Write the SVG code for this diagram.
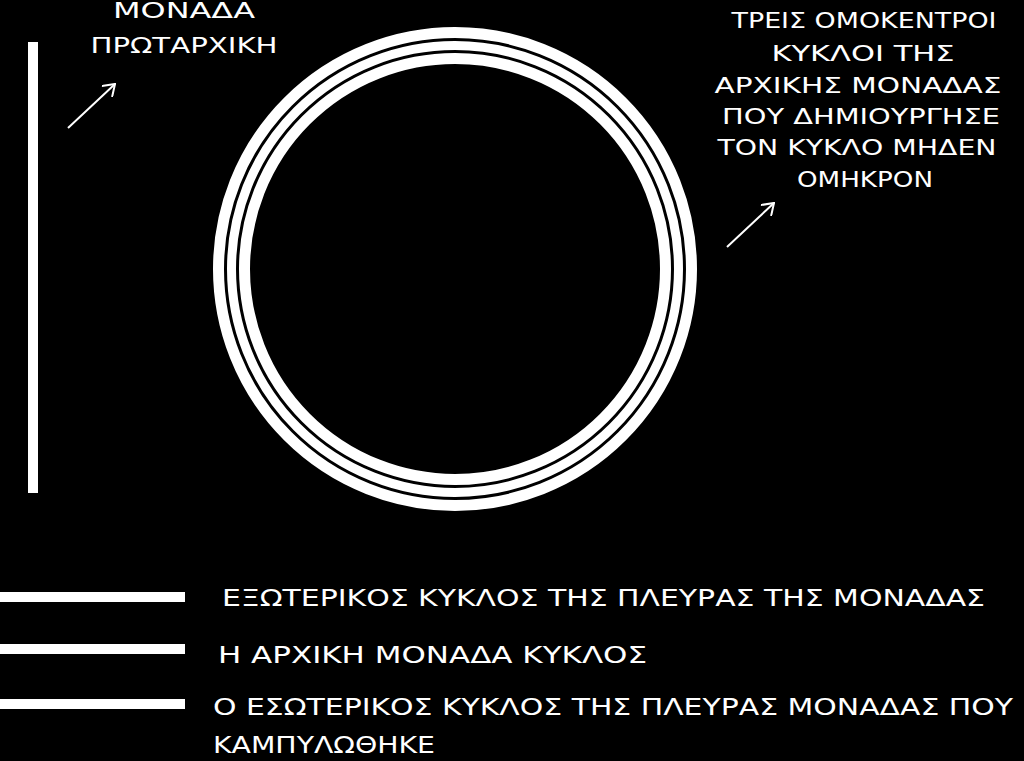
<svg xmlns="http://www.w3.org/2000/svg" width="1024" height="761" viewBox="0 0 1024 761">
  <defs>
    <style>
      .lbl { font-family: "DejaVu Sans", "Liberation Sans", sans-serif; fill: #ffffff; }
      .top { font-size: 21px; }
      .leg { font-size: 23px; }
      .ring { fill: none; stroke: #ffffff; }
      .bar { fill: #ffffff; }
      .arrow { stroke: #ffffff; stroke-width: 2; fill: none; marker-end: url(#head); }
    </style>
    <marker id="head" viewBox="0 0 16 16" refX="15" refY="8" markerWidth="16" markerHeight="16" markerUnits="userSpaceOnUse" orient="auto">
      <path d="M4,0.5 L15,8 L4,15.5" fill="none" stroke="#ffffff" stroke-width="2" stroke-linejoin="miter"/>
    </marker>
  </defs>
  <rect x="0" y="0" width="1024" height="761" fill="#000000"/>

  <g id="vertical-bar">
    <rect class="bar" x="28" y="42" width="10" height="451"/>
  </g>

  <g id="concentric-circles">
    <circle class="ring" cx="455" cy="269" r="236.5" stroke-width="11"/>
    <circle class="ring" cx="455" cy="269" r="223.5" stroke-width="9"/>
    <circle class="ring" cx="455" cy="269" r="210.5" stroke-width="11"/>
  </g>

  <g id="label-monada">
    <text class="lbl top" x="184" y="18" text-anchor="middle" textLength="142" lengthAdjust="spacingAndGlyphs">ΜΟΝΑΔΑ</text>
    <text class="lbl top" x="184" y="53" text-anchor="middle" textLength="187" lengthAdjust="spacingAndGlyphs">ΠΡΩΤΑΡΧΙΚΗ</text>
  </g>

  <g id="label-treis">
    <text class="lbl top" x="864" y="28" text-anchor="middle" textLength="265" lengthAdjust="spacingAndGlyphs">ΤΡΕΙΣ ΟΜΟΚΕΝΤΡΟΙ</text>
    <text class="lbl top" x="863" y="61" text-anchor="middle" textLength="183" lengthAdjust="spacingAndGlyphs">ΚΥΚΛΟΙ ΤΗΣ</text>
    <text class="lbl top" x="858" y="93" text-anchor="middle" textLength="287" lengthAdjust="spacingAndGlyphs">ΑΡΧΙΚΗΣ ΜΟΝΑΔΑΣ</text>
    <text class="lbl top" x="861" y="124" text-anchor="middle" textLength="278" lengthAdjust="spacingAndGlyphs">ΠΟΥ ΔΗΜΙΟΥΡΓΗΣΕ</text>
    <text class="lbl top" x="857" y="155" text-anchor="middle" textLength="279" lengthAdjust="spacingAndGlyphs">ΤΟΝ ΚΥΚΛΟ ΜΗΔΕΝ</text>
    <text class="lbl top" x="865" y="187" text-anchor="middle" textLength="136" lengthAdjust="spacingAndGlyphs">ΟΜΗΚΡΟΝ</text>
  </g>

  <g id="legend-outer">
    <rect class="bar" x="0" y="592" width="185" height="10"/>
    <text class="lbl leg" x="222" y="606" textLength="763" lengthAdjust="spacingAndGlyphs">ΕΞΩΤΕΡΙΚΟΣ ΚΥΚΛΟΣ ΤΗΣ ΠΛΕΥΡΑΣ ΤΗΣ ΜΟΝΑΔΑΣ</text>
  </g>

  <g id="legend-middle">
    <rect class="bar" x="0" y="644" width="185" height="10"/>
    <text class="lbl leg" x="218" y="663" textLength="429" lengthAdjust="spacingAndGlyphs">Η ΑΡΧΙΚΗ ΜΟΝΑΔΑ ΚΥΚΛΟΣ</text>
  </g>

  <g id="legend-inner">
    <rect class="bar" x="0" y="699" width="185" height="10"/>
    <text class="lbl leg" x="213" y="715" textLength="800" lengthAdjust="spacingAndGlyphs">Ο ΕΣΩΤΕΡΙΚΟΣ ΚΥΚΛΟΣ ΤΗΣ ΠΛΕΥΡΑΣ ΜΟΝΑΔΑΣ ΠΟΥ</text>
    <text class="lbl leg" x="213" y="753" textLength="222" lengthAdjust="spacingAndGlyphs">ΚΑΜΠΥΛΩΘΗΚΕ</text>
  </g>

  <g id="connectors">
    <line class="arrow" x1="68" y1="128" x2="115" y2="84"/>
    <line class="arrow" x1="727" y1="247" x2="774" y2="203"/>
  </g>
</svg>
